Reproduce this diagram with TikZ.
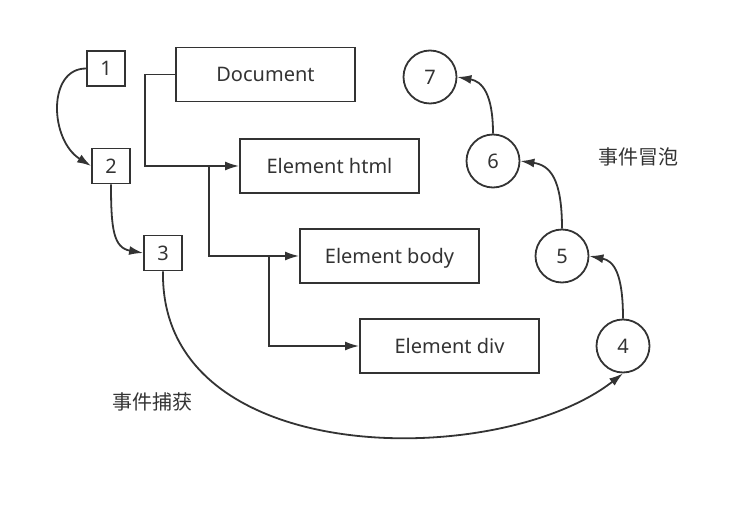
\documentclass[tikz,border=0pt]{standalone}
\usepackage{fontspec}
\setmainfont{Noto Sans}
\newfontfamily\cjk{Noto Sans CJK SC}
\usepackage{tikz}
\usetikzlibrary{arrows.meta, calc}
\definecolor{ink}{HTML}{333333}

\begin{document}
\begin{tikzpicture}[x=1pt, y=1pt, line width=1.8pt, color=ink,
  font=\fontsize{20}{24}\selectfont,
  numbox/.style={draw, minimum width=38pt, minimum height=35pt, inner sep=0pt, text height=14.3pt, text depth=0pt},
  elem/.style={draw, minimum width=179pt, minimum height=54pt, inner sep=0pt, text height=14.3pt, text depth=0pt},
  phase/.style={draw, circle, minimum size=53pt, inner sep=0pt, text height=14.3pt, text depth=0pt},
  arr/.style={-{Latex[length=14pt, width=9pt]}}]
\useasboundingbox (0,0) rectangle (751,-510);

\node[numbox] (cap1) at (106,-68.5) {1};
\node[numbox] (cap2) at (111,-166) {2};
\node[numbox] (cap3) at (163,-253) {3};

\node[elem] (doc) at (265.5,-74.5) {Document};
\node[elem] (html) at (329.5,-166) {Element html};
\node[elem] (body) at (389.5,-256) {Element body};
\node[elem] (div) at (449.5,-346) {Element div};

\node[phase] (bub4) at (623,-346) {4};
\node[phase] (bub5) at (562,-256) {5};
\node[phase] (bub6) at (493,-161) {6};
\node[phase] (bub7) at (430,-77) {7};

\node (capture) at (152,-402) {\cjk 事件捕获};
\node (bubble) at (638,-157) {\cjk 事件冒泡};

% DOM tree
\draw[arr] (doc.west) -- ++(-30,0) |- (html.west);
\draw[arr] ($(html.west)+(-30,0)$) |- (body.west);
\draw[arr] ($(body.west)+(-30,0)$) |- (div.west);

% capture phase
\draw[arr] (cap1.west) to[out=180, in=148, out distance=39pt, in distance=49pt] (cap2.west);
\draw[arr] (cap2.south) to[out=-90, in=170, out distance=45pt, in distance=30pt] (cap3.west);
\draw[arr] (cap3.south) to[out=-91, in=218, out distance=199pt, in distance=157pt] (bub4.south);

% bubble phase
\draw[arr] (bub4.north) to[out=90, in=-11, out distance=45pt, in distance=25pt] (bub5.east);
\draw[arr] (bub5.north) to[out=90, in=-8, out distance=50pt, in distance=30pt] (bub6.east);
\draw[arr] (bub6.north) to[out=90, in=-10, out distance=40pt, in distance=25pt] (bub7.east);
\end{tikzpicture}
\end{document}
